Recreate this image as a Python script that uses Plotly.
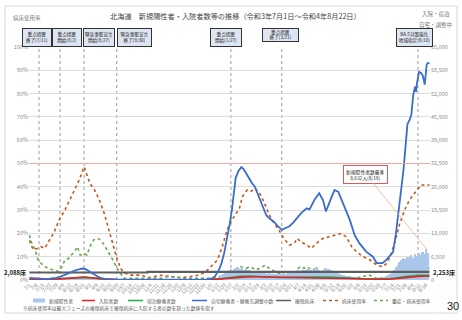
import pandas as pd
import plotly.graph_objects as go

# ---------------- data ----------------
bar_start = '2021-07-01'
# daily new positives, one value per 2 days (from 2021-07-01)
new_pos = [
    40, 45, 50, 40, 60, 70, 60, 80, 100, 120, 130, 160, 200, 210, 250, 260,
    300, 350, 400, 420, 480, 520, 560, 540, 600, 580, 560, 500, 480, 450, 400,
    350, 300, 250, 200, 150, 120, 100, 80, 70, 60, 50, 40, 35, 30, 25,
    20, 20, 15, 15, 12, 10, 10, 10, 8, 8, 8, 6, 6, 6, 5, 5,
    5, 8, 10, 15, 12, 20, 18, 15, 12, 10, 10, 10, 8, 10, 10,
    10, 12, 15, 12, 10, 10, 8, 8, 10, 12, 10, 15, 15, 20, 25,
    25, 30, 40, 80, 150, 300, 500, 900, 1300, 1700, 2000, 2400, 2700, 3000, 2700, 3200,
    3400, 3700, 3100, 3500, 2900, 3200, 2800, 2700, 2400, 2600, 2200, 2400, 2000, 2100,
    1900, 2000, 1800, 1900, 1700, 1800, 1600, 1700, 1500, 1800, 1600, 1900, 1800, 2000, 2100,
    2200, 2500, 2300, 2700, 2500, 2800, 2900, 2700, 3100, 3300, 2900, 2700, 3300, 3500, 2800,
    2600, 2900, 3300, 3000, 3100, 2800, 2600, 2400, 2100, 1900, 1700, 1500, 1300, 1200, 1100, 1000,
    900, 850, 800, 700, 650, 600, 550, 500, 520, 480, 500, 520, 550, 600, 650,
    700, 800, 900, 1100, 1300, 1700, 2100, 2800, 3500, 4300, 5000, 5600, 6200, 5800, 6500,
    6300, 7000, 6000, 7200, 6800, 7500, 6900, 7800, 7200, 8632, 7600,
]

home_dates = [
    '2021-07-01', '2021-07-08', '2021-07-15', '2021-07-22', '2021-07-29', '2021-08-03',
    '2021-08-08', '2021-08-13', '2021-08-18', '2021-08-22', '2021-08-25', '2021-08-28',
    '2021-09-02', '2021-09-07', '2021-09-12', '2021-09-17', '2021-09-22', '2021-10-10',
    '2021-11-01', '2021-11-20', '2021-12-10', '2021-12-31', '2022-01-06', '2022-01-10',
    '2022-01-14', '2022-01-17', '2022-01-20', '2022-01-23', '2022-01-26', '2022-01-28',
    '2022-01-30', '2022-02-01', '2022-02-04', '2022-02-07', '2022-02-09', '2022-02-12',
    '2022-02-15', '2022-02-18', '2022-02-21', '2022-02-24', '2022-02-27', '2022-03-02',
    '2022-03-05', '2022-03-09', '2022-03-13', '2022-03-17', '2022-03-21', '2022-03-25',
    '2022-03-29', '2022-04-02', '2022-04-06', '2022-04-10', '2022-04-16', '2022-04-19',
    '2022-04-24', '2022-04-29', '2022-05-03', '2022-05-06', '2022-05-12', '2022-05-15',
    '2022-05-19', '2022-05-24', '2022-05-27', '2022-05-31', '2022-06-05', '2022-06-10',
    '2022-06-17', '2022-06-24', '2022-06-28', '2022-07-04', '2022-07-08', '2022-07-12',
    '2022-07-15', '2022-07-18', '2022-07-20', '2022-07-22', '2022-07-24', '2022-07-26',
    '2022-07-28', '2022-07-30', '2022-08-01', '2022-08-03', '2022-08-05', '2022-08-06',
    '2022-08-07', '2022-08-08', '2022-08-09', '2022-08-11', '2022-08-13', '2022-08-15',
    '2022-08-16', '2022-08-17', '2022-08-19', '2022-08-20', '2022-08-22',
]
home_vals = [
    600, 400, 300, 350, 600, 1000,
    1600, 2200, 2700, 3000, 3200, 3100,
    2300, 1300, 700, 300, 150, 80,
    60, 70, 60, 100, 300, 900,
    2500, 4500, 7500, 11500, 16000, 19500,
    24500, 28500, 30500, 31500, 31000, 29500,
    28400, 27000, 26000, 24000, 22000, 19500,
    18000, 17000, 16200, 15000, 14000, 14500,
    15000, 16000, 17200, 18600, 20000, 19700,
    22300, 24200, 22300, 19100, 23200, 25100,
    24600, 21400, 19500, 16700, 12500, 10200,
    7900, 6500, 4700, 4700, 5600, 6800,
    7800, 13000, 17000, 21500, 26500, 31000,
    38000, 43500, 44500, 46000, 51500, 53500,
    54000, 52500, 55000, 58000, 57800, 57000,
    55500, 54500, 60000, 60500, 60500,
]

hosp_dates = [
    '2021-07-01', '2021-07-15', '2021-08-01', '2021-08-10', '2021-08-20', '2021-08-27',
    '2021-09-05', '2021-09-15', '2021-10-01', '2021-10-20', '2021-11-15', '2021-12-15',
    '2022-01-05', '2022-01-15', '2022-01-25', '2022-02-05', '2022-02-15', '2022-02-25',
    '2022-03-10', '2022-03-21', '2022-04-10', '2022-04-25', '2022-05-10', '2022-05-25',
    '2022-06-10', '2022-06-25', '2022-07-10', '2022-07-20', '2022-08-01', '2022-08-10',
    '2022-08-22',
]
hosp_vals = [
    180, 200, 300, 450, 650, 750,
    550, 300, 120, 60, 40, 40,
    60, 250, 550, 850, 950, 900,
    800, 650, 550, 550, 500, 400,
    250, 180, 220, 450, 800, 1000,
    1100,
]
hotel_vals = [
    150, 180, 300, 500, 700, 800,
    600, 300, 60, 20, 15, 15,
    30, 300, 700, 1000, 1050, 950,
    800, 700, 800, 900, 850, 600,
    300, 200, 300, 700, 1100, 1300,
    1300,
]

bed_dates = ['2021-07-01', '2021-11-01', '2022-08-22']
bed_vals = [2088, 2253, 2253]

use_dates = [
    '2021-07-01', '2021-07-05', '2021-07-09', '2021-07-13', '2021-07-17', '2021-07-22',
    '2021-07-27', '2021-08-01', '2021-08-07', '2021-08-12', '2021-08-17', '2021-08-22',
    '2021-08-27', '2021-08-30', '2021-09-02', '2021-09-07', '2021-09-12', '2021-09-17',
    '2021-09-21', '2021-09-26', '2021-09-30', '2021-10-04', '2021-10-08', '2021-10-15',
    '2021-10-25', '2021-11-03', '2021-11-15', '2021-11-25', '2021-12-05', '2021-12-15',
    '2021-12-25', '2022-01-01', '2022-01-07', '2022-01-13', '2022-01-18', '2022-01-23',
    '2022-01-28', '2022-02-01', '2022-02-05', '2022-02-08', '2022-02-13', '2022-02-17',
    '2022-02-21', '2022-02-26', '2022-03-03', '2022-03-08', '2022-03-13', '2022-03-18',
    '2022-03-23', '2022-03-29', '2022-04-03', '2022-04-06', '2022-04-10', '2022-04-16',
    '2022-04-21', '2022-04-26', '2022-05-03', '2022-05-10', '2022-05-17', '2022-05-22',
    '2022-05-27', '2022-06-02', '2022-06-07', '2022-06-14', '2022-06-21', '2022-06-28',
    '2022-07-04', '2022-07-08', '2022-07-12', '2022-07-17', '2022-07-22', '2022-07-27',
    '2022-08-01', '2022-08-06', '2022-08-10', '2022-08-13', '2022-08-17', '2022-08-22',
]
use_vals = [
    17.0, 13.0, 13.5, 14.3, 13.6, 17.0,
    20.7, 25.8, 30.0, 34.3, 38.6, 43.0,
    48.6, 45.0, 41.5, 38.6, 34.3, 28.6,
    22.9, 15.0, 9.5, 5.0, 3.0, 2.1,
    2.1, 1.0, 2.0, 1.5, 1.0, 1.4,
    2.1, 3.6, 6.0, 8.6, 14.3, 21.5,
    25.8, 28.6, 30.8, 35.8, 38.6, 38.0,
    39.3, 37.2, 33.0, 27.9, 24.3, 21.5,
    17.9, 15.0, 15.7, 17.9, 16.4, 15.0,
    13.6, 15.7, 17.9, 18.6, 19.3, 20.0,
    18.6, 14.3, 12.1, 10.0, 8.6, 6.4,
    5.7, 7.0, 10.0, 16.4, 24.3, 30.0,
    34.3, 37.2, 39.3, 40.8, 40.8, 40.8,
]

sev_dates = [
    '2021-07-01', '2021-07-03', '2021-07-07', '2021-07-10', '2021-07-15', '2021-07-20',
    '2021-07-26', '2021-07-31', '2021-08-04', '2021-08-07', '2021-08-11', '2021-08-14',
    '2021-08-18', '2021-08-20', '2021-08-23', '2021-08-27', '2021-08-30', '2021-09-02',
    '2021-09-06', '2021-09-10', '2021-09-13', '2021-09-16', '2021-09-20', '2021-09-23',
    '2021-09-26', '2021-09-30', '2021-10-03', '2021-10-07', '2021-10-25', '2021-11-15',
    '2021-11-22', '2021-12-01', '2021-12-10', '2021-12-28', '2022-01-10', '2022-01-20',
    '2022-01-28', '2022-02-06', '2022-02-12', '2022-02-16', '2022-02-22', '2022-03-01',
    '2022-03-04', '2022-03-08', '2022-03-14', '2022-03-21', '2022-03-28', '2022-04-04',
    '2022-04-09', '2022-04-13', '2022-04-16', '2022-04-22', '2022-04-25', '2022-04-30',
    '2022-05-05', '2022-05-12', '2022-05-19', '2022-06-05', '2022-06-20', '2022-06-28',
    '2022-07-10', '2022-07-15', '2022-07-22', '2022-07-29', '2022-08-05', '2022-08-08',
    '2022-08-12', '2022-08-17', '2022-08-22',
]
sev_vals = [
    19.3, 16.4, 12.9, 8.6, 6.4, 5.0,
    4.3, 3.6, 5.7, 8.6, 9.3, 10.7,
    12.9, 14.3, 10.7, 11.4, 10.7, 14.3,
    17.2, 17.9, 17.2, 15.7, 12.9, 10.7,
    8.6, 5.0, 3.6, 0.7, 0.7, 0.7,
    1.4, 1.4, 0.7, 0.7, 0.7, 2.0,
    4.0, 5.7, 5.0, 5.7, 4.3, 5.7,
    6.4, 5.0, 3.6, 2.1, 1.4, 3.6,
    5.7, 5.0, 5.7, 4.3, 5.0, 3.6,
    1.4, 1.4, 0.7, 0.7, 2.1, 0.7,
    0.5, 1.5, 4.3, 5.7, 6.4, 5.0,
    6.4, 5.0, 5.0,
]

events = [
    ('2021-07-11', '重点措置<br>終了(7/11)', 36.7, 30, 37.5, 19),
    ('2021-08-02', '重点措置<br>開始(8/2)', 66.7, 30, 37.5, 19),
    ('2021-08-27', '緊急事態宣言<br>開始(8/27)', 98.9, 32, 37.5, 19),
    ('2021-09-30', '緊急事態宣言<br>終了(9/30)', 134.2, 35, 37.5, 19),
    ('2022-01-27', '重点措置<br>開始(1/27)', 226.0, 32, 37.5, 19),
    ('2022-03-21', '重点措置<br>終了(3/21)', 280.0, 37, 35.0, 14),
    ('2022-08-10', 'BA.5対策強化<br>地域指定(8/10)', 414.4, 37, 37.5, 19),
]

FONT = 'Noto Sans CJK JP, Noto Sans, sans-serif'

# ---------------- helpers ----------------
L, R, T, B = 29, 32, 47, 40
W, H = 462, 320
PW, PH = W - L - R, H - T - B


def px(x):
    return (x - L) / PW


def py(y):
    return (H - B - y) / PH


def txt_ann(x, y, text, size, color, xanchor='center', bold=False, family=FONT):
    return dict(xref='paper', yref='paper', x=px(x), y=py(y),
                text=f'<b>{text}</b>' if bold else text, showarrow=False,
                xanchor=xanchor, yanchor='middle',
                font=dict(size=size, color=color, family=family))


fig = go.Figure()

fig.add_trace(go.Bar(
    x=pd.date_range(bar_start, periods=len(new_pos), freq='2D'), y=new_pos,
    yaxis='y2', width=1.7 * 86400000, marker=dict(color='#aac6ea', line_width=0),
    name='新規陽性者'))
fig.add_trace(go.Scatter(x=bed_dates, y=bed_vals, yaxis='y2', mode='lines',
                         line=dict(color='#5f5f5f', width=2.2, shape='hv'), name='確保病床'))
fig.add_trace(go.Scatter(x=hosp_dates, y=hotel_vals, yaxis='y2', mode='lines',
                         line=dict(color='#1fae4b', width=1.6), name='宿泊療養者数'))
fig.add_trace(go.Scatter(x=hosp_dates, y=hosp_vals, yaxis='y2', mode='lines',
                         line=dict(color='#e32222', width=1.6), name='入院者数'))
fig.add_trace(go.Scatter(x=home_dates, y=home_vals, yaxis='y2', mode='lines',
                         line=dict(color='#3a6ccc', width=1.8), name='自宅療養者・療養先調整中数'))
fig.add_trace(go.Scatter(x=use_dates, y=use_vals, yaxis='y', mode='lines',
                         line=dict(color='#c4581c', width=1.6, dash='dot'), name='病床使用率'))
fig.add_trace(go.Scatter(x=sev_dates, y=sev_vals, yaxis='y', mode='lines',
                         line=dict(color='#6aa84f', width=1.6, dash='dot'), name='重症・病床使用率'))

shapes = []
annotations = []

# 50% line
shapes.append(dict(type='line', xref='paper', x0=0, x1=1, yref='y', y0=50, y1=50,
                   line=dict(color='#f2a7a7', width=1), layer='above'))

# event lines & boxes
for d, txt, cx, bw, cy, bh in events:
    shapes.append(dict(type='line', xref='x', x0=d, x1=d, yref='paper', y0=0, y1=1,
                       line=dict(color='#9a9a9a', width=1, dash='dot'), layer='below'))
    annotations.append(dict(xref='paper', yref='paper', x=px(cx), y=py(cy), text=txt,
                            showarrow=False, xanchor='center', yanchor='middle',
                            width=bw - 2, height=bh - 2, borderpad=0,
                            bgcolor='#dfe6f3', bordercolor='#333333', borderwidth=1,
                            font=dict(size=4.6, color='#1a1a1a', family=FONT)))

# max annotation
annotations.append(dict(x='2022-08-19', y=8632, xref='x', yref='y2',
                        text='新規陽性者数最多<br>8,632人(8/19)', showarrow=True,
                        arrowhead=0, arrowwidth=0.8, arrowcolor='#f3b08c',
                        ax=-61, ay=-75, bgcolor='white', bordercolor='#e05a5a',
                        borderwidth=1, borderpad=2,
                        font=dict(size=4.8, color='#222', family=FONT)))

# titles / side texts
annotations += [
    txt_ann(235, 16.5, '北海道　新規陽性者・入院者数等の推移（令和3年7月1日～令和4年8月22日）', 7.2, '#444'),
    txt_ann(11, 18, '病床使用率', 5.5, '#777', xanchor='left'),
    txt_ann(452, 14, '入院・宿泊', 5.5, '#777', xanchor='right'),
    txt_ann(454, 25, '自宅・調整中', 5.5, '#777', xanchor='right'),
    txt_ann(28, 272, '2,088床', 6, '#222', xanchor='right', bold=True),
    txt_ann(431, 272.5, '2,253床', 6, '#222', xanchor='left', bold=True),
    txt_ann(21, 307.5, '※病床使用率は最大フェーズの確保病床で確保病床に入院する者の数を割った数値を指す',
            4.8, '#555', xanchor='left'),
    txt_ann(461, 306, '30', 11, '#222', xanchor='right', family='Liberation Sans, Arial'),
]

# manual legend
LY = 300.5
leg = [
    ('rect', '#aac6ea', None, 33, 45, '新規陽性者'),
    ('line', '#e32222', 'solid', 82, 95, '入院者数'),
    ('line', '#1fae4b', 'solid', 128, 143, '宿泊療養者数'),
    ('line', '#3a6ccc', 'solid', 192, 207, '自宅療養者・療養先調整中数'),
    ('line', '#5f5f5f', 'solid', 276, 291, '確保病床'),
    ('line', '#c4581c', 'dot', 323, 338, '病床使用率'),
    ('line', '#6aa84f', 'dot', 374, 388, '重症・病床使用率'),
]
for kind, col, dash, x0, x1, txt in leg:
    if kind == 'rect':
        shapes.append(dict(type='rect', xref='paper', yref='paper', x0=px(x0), x1=px(x1),
                           y0=py(LY + 2), y1=py(LY - 2), fillcolor=col, line_width=0))
    else:
        shapes.append(dict(type='line', xref='paper', yref='paper', x0=px(x0), x1=px(x1),
                           y0=py(LY), y1=py(LY), line=dict(color=col, width=1.5, dash=dash)))
    annotations.append(txt_ann(x1 + 2, LY, txt, 4.8, '#555', xanchor='left'))

# outer frame
shapes.append(dict(type='rect', xref='paper', yref='paper', x0=px(5), x1=px(457), y0=py(6), y1=py(313),
                   line=dict(color='#d8d8d8', width=1), fillcolor='rgba(0,0,0,0)', layer='below'))

fig.update_layout(
    width=W, height=H, margin=dict(l=L, r=R, t=T, b=B, autoexpand=False),
    paper_bgcolor='white', plot_bgcolor='white', showlegend=False,
    font=dict(family=FONT),
    bargap=0,
    xaxis=dict(type='date', range=['2021-06-30 14:00', '2022-08-22 12:00'],
               tickmode='linear', tick0='2021-07-01', dtick=7 * 86400000,
               tickformat='%-m/%-d', tickangle=-45, ticklabeloverflow='allow',
               tickfont=dict(size=5.2, color='#8a8a8a', family='Liberation Sans, Arial'),
               showgrid=False, zeroline=False, showline=False, ticks='', automargin=False),
    yaxis=dict(range=[0, 100], dtick=10, ticksuffix='%', tickfont=dict(size=5.5, color='#8a8a8a'),
               gridcolor='#dcdcdc', gridwidth=1, zeroline=False, showline=False, ticks='',
               automargin=False, ticklabeloverflow='allow'),
    yaxis2=dict(range=[0, 65000], dtick=6500, tickformat=',', overlaying='y', side='right',
                tickfont=dict(size=5.5, color='#8a8a8a'), showgrid=False, zeroline=False,
                showline=False, ticks='', automargin=False, ticklabeloverflow='allow'),
    shapes=shapes, annotations=annotations,
)

fig.write_html('out.html')
